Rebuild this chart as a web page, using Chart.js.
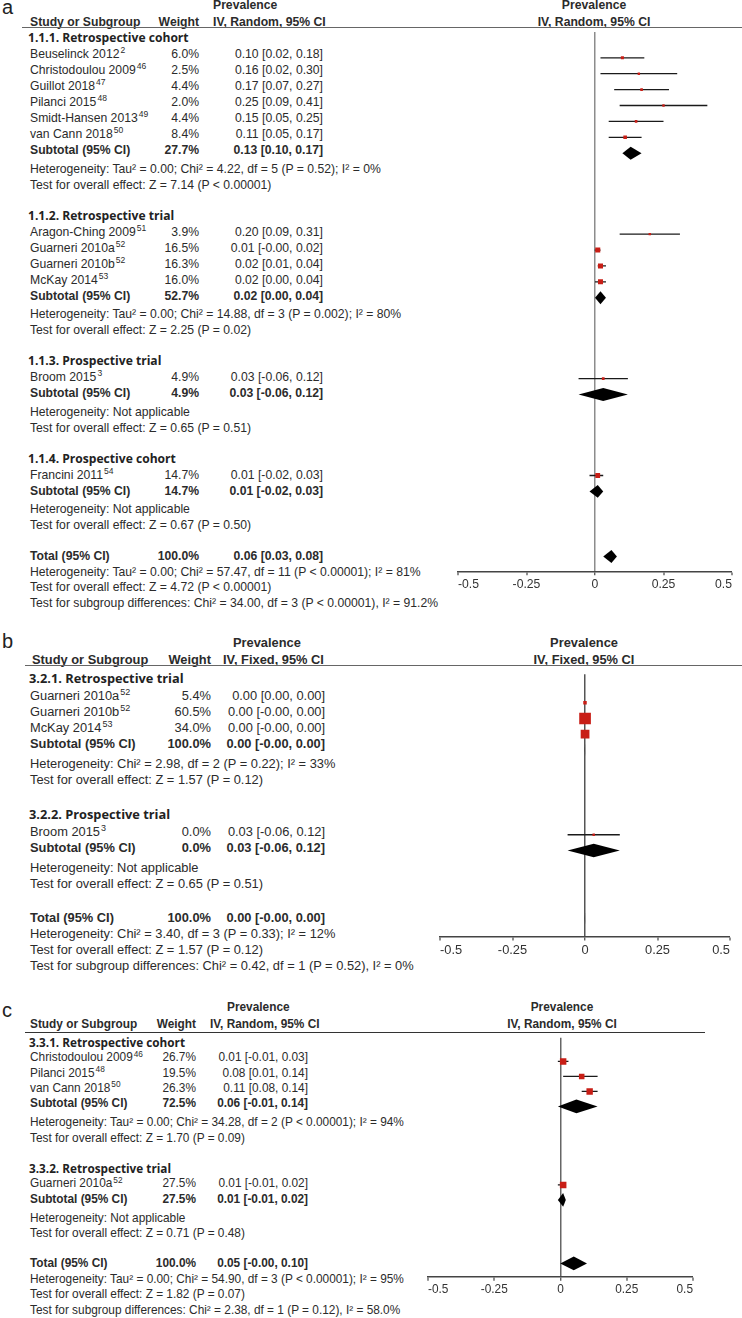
<!DOCTYPE html>
<html>
<head>
<meta charset="utf-8">
<title>Prevalence forest plots</title>
<script src="https://cdn.jsdelivr.net/npm/chart.js@4.4.1/dist/chart.umd.min.js"></script>
<style>
  html, body { margin: 0; padding: 0; background: #fff; }
  #page { position: relative; width: 742px; height: 1318px; overflow: hidden;
          font-family: "Liberation Sans", Arial, sans-serif; color: #2b2b2b; }
  .t { position: absolute; white-space: nowrap; line-height: 16px; height: 16px; }
  .bold { font-weight: bold; }
  .grp { font-family: "Open Sans", "Liberation Sans", sans-serif; font-weight: 700; color: #222; }
  .t sup { font-size: 0.7em; line-height: 0; vertical-align: 0.55em; padding-left: 1px; }
  .rule { position: absolute; height: 0; }
  .panel-label { position: absolute; font-size: 20px; line-height: 20px; color: #222; }
  canvas { position: absolute; }
</style>
</head>
<body>
<div id="page"></div>
<script>
// x axis
var tickValues = [-0.5, -0.25, 0, 0.25, 0.5];
var tickLabels = ['-0.5', '-0.25', '0', '0.25', '0.5'];

// ---- panel a (IV, Random) ----
var aMethod = 'IV, Random, 95% CI';
var aGroups = ['1.1.1. Retrospective cohort', '1.1.2. Retrospective trial', '1.1.3. Prospective trial', '1.1.4. Prospective cohort'];
var aStudies = ['Beuselinck 2012', 'Christodoulou 2009', 'Guillot 2018', 'Pilanci 2015', 'Smidt-Hansen 2013', 'van Cann 2018',
                'Aragon-Ching 2009', 'Guarneri 2010a', 'Guarneri 2010b', 'McKay 2014', 'Broom 2015', 'Francini 2011'];
var aRefs = ['2', '46', '47', '48', '49', '50', '51', '52', '52', '53', '3', '54'];
var aGroupOf = [0, 0, 0, 0, 0, 0, 1, 1, 1, 1, 2, 3];
var aWeights = [6.0, 2.5, 4.4, 2.0, 4.4, 8.4, 3.9, 16.5, 16.3, 16.0, 4.9, 14.7];
var aEst = [0.10, 0.16, 0.17, 0.25, 0.15, 0.11, 0.20, 0.01, 0.02, 0.02, 0.03, 0.01];
var aLow = [0.02, 0.02, 0.07, 0.09, 0.05, 0.05, 0.09, -0.001, 0.01, 0.00, -0.06, -0.02];
var aHigh = [0.18, 0.30, 0.27, 0.41, 0.25, 0.17, 0.31, 0.02, 0.04, 0.04, 0.12, 0.03];
var aSubWeights = [27.7, 52.7, 4.9, 14.7];
var aSubEst = [0.13, 0.02, 0.03, 0.01];
var aSubLow = [0.10, 0.00, -0.06, -0.02];
var aSubHigh = [0.17, 0.04, 0.12, 0.03];
var aHet = ['Heterogeneity: Tau\u00b2 = 0.00; Chi\u00b2 = 4.22, df = 5 (P = 0.52); I\u00b2 = 0%',
            'Heterogeneity: Tau\u00b2 = 0.00; Chi\u00b2 = 14.88, df = 3 (P = 0.002); I\u00b2 = 80%',
            'Heterogeneity: Not applicable',
            'Heterogeneity: Not applicable'];
var aEffect = ['Test for overall effect: Z = 7.14 (P < 0.00001)', 'Test for overall effect: Z = 2.25 (P = 0.02)',
               'Test for overall effect: Z = 0.65 (P = 0.51)', 'Test for overall effect: Z = 0.67 (P = 0.50)'];
var aTotal = [100.0, 0.06, 0.03, 0.08]; // weight, estimate, low, high
var aTotalNotes = ['Heterogeneity: Tau\u00b2 = 0.00; Chi\u00b2 = 57.47, df = 11 (P < 0.00001); I\u00b2 = 81%',
                   'Test for overall effect: Z = 4.72 (P < 0.00001)',
                   'Test for subgroup differences: Chi\u00b2 = 34.00, df = 3 (P < 0.00001), I\u00b2 = 91.2%'];

// ---- panel b (IV, Fixed) ----
var bMethod = 'IV, Fixed, 95% CI';
var bGroups = ['3.2.1. Retrospective trial', '3.2.2. Prospective trial'];
var bStudies = ['Guarneri 2010a', 'Guarneri 2010b', 'McKay 2014', 'Broom 2015'];
var bRefs = ['52', '52', '53', '3'];
var bGroupOf = [0, 0, 0, 1];
var bWeights = [5.4, 60.5, 34.0, 0.0];
var bEst = [0.00, 0.0002, 0.0002, 0.03];
var bLow = [0.00, -0.0004, -0.0004, -0.06];
var bHigh = [0.00, 0.0008, 0.0008, 0.12];
var bSubWeights = [100.0, 0.0];
var bSubEst = [0.0002, 0.03];
var bSubLow = [-0.0004, -0.06];
var bSubHigh = [0.0008, 0.12];
var bHet = ['Heterogeneity: Chi\u00b2 = 2.98, df = 2 (P = 0.22); I\u00b2 = 33%', 'Heterogeneity: Not applicable'];
var bEffect = ['Test for overall effect: Z = 1.57 (P = 0.12)', 'Test for overall effect: Z = 0.65 (P = 0.51)'];
var bTotal = [100.0, 0.0002, -0.0004, 0.0008];
var bTotalNotes = ['Heterogeneity: Chi\u00b2 = 3.40, df = 3 (P = 0.33); I\u00b2 = 12%',
                   'Test for overall effect: Z = 1.57 (P = 0.12)',
                   'Test for subgroup differences: Chi\u00b2 = 0.42, df = 1 (P = 0.52), I\u00b2 = 0%'];

// ---- panel c (IV, Random) ----
var cMethod = 'IV, Random, 95% CI';
var cGroups = ['3.3.1. Retrospective cohort', '3.3.2. Retrospective trial'];
var cStudies = ['Christodoulou 2009', 'Pilanci 2015', 'van Cann 2018', 'Guarneri 2010a'];
var cRefs = ['46', '48', '50', '52'];
var cGroupOf = [0, 0, 0, 1];
var cWeights = [26.7, 19.5, 26.3, 27.5];
var cEst = [0.01, 0.08, 0.11, 0.01];
var cLow = [-0.01, 0.01, 0.08, -0.01];
var cHigh = [0.03, 0.14, 0.14, 0.02];
var cSubWeights = [72.5, 27.5];
var cSubEst = [0.06, 0.01];
var cSubLow = [-0.01, -0.01];
var cSubHigh = [0.14, 0.02];
var cHet = ['Heterogeneity: Tau\u00b2 = 0.00; Chi\u00b2 = 34.28, df = 2 (P < 0.00001); I\u00b2 = 94%', 'Heterogeneity: Not applicable'];
var cEffect = ['Test for overall effect: Z = 1.70 (P = 0.09)', 'Test for overall effect: Z = 0.71 (P = 0.48)'];
var cTotal = [100.0, 0.05, -0.001, 0.10];
var cTotalNotes = ['Heterogeneity: Tau\u00b2 = 0.00; Chi\u00b2 = 54.90, df = 3 (P < 0.00001); I\u00b2 = 95%',
                   'Test for overall effect: Z = 1.82 (P = 0.07)',
                   'Test for subgroup differences: Chi\u00b2 = 2.38, df = 1 (P = 0.12), I\u00b2 = 58.0%'];

// positions and styles of each panel (page pixels)
var layoutA = { label: 'a', labelY: 7, font: 12.2, grpFont: 12.1, top1: 5, top2: 22, ruleY: 28, ruleX0: 22, ruleX1: 742,
  prevX: 213, methodX: 213, hdrX: 30, weightR: 199, ciR: 323, nameX: 30, grpX: 28,
  firstY: 38, s: 16, hs: 16, h: 18.5, g: 31, ns: 15.5, axisY: 571, x0: 458, x1: 732, plotC: 594,
  box: 1.25, diamond: 6.5, zero: '#8c8c8c', rule: '#666' };
var layoutB = { label: 'b', labelY: 641, font: 12.85, grpFont: 12.8, top1: 643, top2: 660, ruleY: 666, ruleX0: 25, ruleX1: 742,
  prevX: 233, methodX: 223, hdrX: 32, weightR: 211, ciR: 325, nameX: 30, grpX: 29,
  firstY: 678, s: 16.2, hs: 17.5, h: 20, g: 34, ns: 16, axisY: 937, x0: 440, x1: 730, plotC: 584,
  box: 1.5, diamond: 7, zero: '#555', rule: '#666' };
var layoutC = { label: 'c', labelY: 1010, font: 11.85, grpFont: 11.75, top1: 1007, top2: 1024, ruleY: 1033, ruleX0: 25, ruleX1: 705,
  prevX: 227, methodX: 210, hdrX: 30, weightR: 196, ciR: 308, nameX: 30, grpX: 29,
  firstY: 1042, s: 15.3, hs: 15.3, h: 19, g: 30.5, ns: 15.5, axisY: 1277, x0: 428, x1: 693, plotC: 562,
  box: 1.25, diamond: 7, zero: '#666', rule: '#333' };

var page = document.getElementById('page');

function fmt(v) { return v.toFixed(2); }
function ci(e, l, h) { return fmt(e) + ' [' + fmt(l) + ', ' + fmt(h) + ']'; }
function pct(w) { return w.toFixed(1) + '%'; }

function addText(html, x, y, size, cls, align) {
  var el = document.createElement('div');
  el.className = 't' + (cls ? ' ' + cls : '');
  el.innerHTML = html;
  el.style.fontSize = size + 'px';
  el.style.top = (y - 8) + 'px';
  if (align === 'right') {
    el.style.left = (x - 400) + 'px'; el.style.width = '400px'; el.style.textAlign = 'right';
  } else if (align === 'center') {
    el.style.left = (x - 200) + 'px'; el.style.width = '400px'; el.style.textAlign = 'center';
  } else {
    el.style.left = x + 'px';
  }
  page.appendChild(el);
}

function buildPanel(d, L) {
  // row positions
  var rows = [];
  var y = L.firstY;
  d.groups.forEach(function (name, g) {
    if (g > 0) y += L.g;
    rows.push({ type: 'grp', g: g, y: y });
    var first = true;
    d.studies.forEach(function (s, i) {
      if (d.groupOf[i] !== g) return;
      y += first ? L.hs : L.s; first = false;
      rows.push({ type: 'study', i: i, y: y });
    });
    y += L.s; rows.push({ type: 'sub', g: g, y: y });
    y += L.h; rows.push({ type: 'het', g: g, y: y });
    y += L.s; rows.push({ type: 'eff', g: g, y: y });
  });
  y += L.g; rows.push({ type: 'total', y: y });
  d.totalNotes.forEach(function (t, k) { y += L.ns; rows.push({ type: 'note', k: k, y: y }); });

  // headers
  var lab = document.createElement('div');
  lab.className = 'panel-label'; lab.textContent = L.label;
  lab.style.left = '2px'; lab.style.top = (L.labelY - 10) + 'px';
  page.appendChild(lab);
  var f = L.font;
  addText('Prevalence', L.prevX, L.top1, f, 'bold');
  addText('Study or Subgroup', L.hdrX, L.top2, f, 'bold');
  addText('Weight', L.weightR, L.top2, f, 'bold', 'right');
  addText(d.method, L.methodX, L.top2, f, 'bold');
  addText('Prevalence', L.plotC, L.top1, f, 'bold', 'center');
  addText(d.method, L.plotC, L.top2, f, 'bold', 'center');
  var rule = document.createElement('div');
  rule.className = 'rule';
  rule.style.left = L.ruleX0 + 'px'; rule.style.width = (L.ruleX1 - L.ruleX0) + 'px';
  rule.style.top = (L.ruleY - 0.75) + 'px'; rule.style.borderTop = '1.5px solid ' + L.rule;
  page.appendChild(rule);

  // table rows
  rows.forEach(function (r) {
    if (r.type === 'grp') addText(d.groups[r.g], L.grpX, r.y, L.grpFont, 'grp');
    if (r.type === 'study') {
      var i = r.i;
      addText(d.studies[i] + '<sup>' + d.refs[i] + '</sup>', L.nameX, r.y, f);
      addText(pct(d.weights[i]), L.weightR, r.y, f, '', 'right');
      addText(ci(d.est[i], d.low[i], d.high[i]), L.ciR, r.y, f, '', 'right');
    }
    if (r.type === 'sub') {
      addText('Subtotal (95% CI)', L.nameX, r.y, f, 'bold');
      addText(pct(d.subWeights[r.g]), L.weightR, r.y, f, 'bold', 'right');
      addText(ci(d.subEst[r.g], d.subLow[r.g], d.subHigh[r.g]), L.ciR, r.y, f, 'bold', 'right');
    }
    if (r.type === 'het') addText(d.het[r.g], L.nameX, r.y, f);
    if (r.type === 'eff') addText(d.effect[r.g], L.nameX, r.y, f);
    if (r.type === 'total') {
      addText('Total (95% CI)', L.nameX, r.y, f, 'bold');
      addText(pct(d.total[0]), L.weightR, r.y, f, 'bold', 'right');
      addText(ci(d.total[1], d.total[2], d.total[3]), L.ciR, r.y, f, 'bold', 'right');
    }
    if (r.type === 'note') addText(d.totalNotes[r.k], L.nameX, r.y, f);
  });

  drawPlot(d, L, rows);
}

function drawPlot(d, L, rows) {
  var tickLen = 4, tickPad = 2;
  var axisH = tickLen + 1.2 * L.font + 2 * tickPad;
  var left = L.x0 - 12, top = L.ruleY;
  var w = 742 - left, h = Math.round(L.axisY - L.ruleY + axisH);
  var cv = document.createElement('canvas');
  cv.width = w; cv.height = h;
  cv.style.left = left + 'px'; cv.style.top = top + 'px';
  cv.style.width = w + 'px'; cv.style.height = h + 'px';
  page.appendChild(cv);

  var studyY = [], subY = [], totalY = 0;
  rows.forEach(function (r) {
    if (r.type === 'study') studyY[r.i] = r.y;
    if (r.type === 'sub') subY[r.g] = r.y;
    if (r.type === 'total') totalY = r.y;
  });

  var datasets = [];
  datasets.push({
    label: 'Studies',
    data: d.est.map(function (e, i) { return { x: e, y: studyY[i] }; }),
    pointStyle: 'rect',
    pointRadius: d.weights.map(function (wt) { return Math.max(2.4, L.box * Math.sqrt(wt)) / Math.SQRT2; }),
    backgroundColor: '#c81e16', borderWidth: 0, order: 0
  });
  d.est.forEach(function (e, i) {
    datasets.push({
      label: d.studies[i] + ' CI',
      data: [{ x: d.low[i], y: studyY[i] }, { x: d.high[i], y: studyY[i] }],
      showLine: true, pointRadius: 0, borderColor: '#1a1a1a', borderWidth: 1.3, order: 1
    });
  });
  function diamond(label, e, lo, hi, y) {
    datasets.push({
      label: label,
      data: [{ x: lo, y: y }, { x: e, y: y - L.diamond }, { x: hi, y: y }, { x: e, y: y + L.diamond }, { x: lo, y: y }],
      showLine: true, fill: 'shape', pointRadius: 0, tension: 0,
      borderColor: 'rgba(0,0,0,0)', backgroundColor: '#000', borderWidth: 0, order: 1
    });
  }
  d.subEst.forEach(function (e, g) { diamond(d.groups[g], e, d.subLow[g], d.subHigh[g], subY[g]); });
  diamond('Total', d.total[1], d.total[2], d.total[3], totalY);

  new Chart(cv, {
    type: 'scatter',
    data: { datasets: datasets },
    options: {
      responsive: false, animation: false, events: [], devicePixelRatio: 1,
      layout: { padding: { left: L.x0 - left, right: 742 - L.x1, top: 0, bottom: 0 } },
      plugins: { legend: { display: false }, tooltip: { enabled: false } },
      scales: {
        x: {
          type: 'linear', min: -0.5, max: 0.5,
          afterBuildTicks: function (ax) { ax.ticks = tickValues.map(function (v) { return { value: v }; }); },
          ticks: {
            align: 'inner', padding: tickPad, maxRotation: 0, autoSkip: false, color: '#333',
            font: { family: 'Liberation Sans', size: L.font },
            callback: function (v, i) { return tickLabels[i]; }
          },
          grid: {
            drawOnChartArea: true, drawTicks: true, tickLength: tickLen, tickWidth: 1.2, tickColor: '#444',
            color: function (c) { return c.tick && c.tick.value === 0 ? L.zero : 'rgba(0,0,0,0)'; },
            lineWidth: function (c) { return c.tick && c.tick.value === 0 ? 1.5 : 0; }
          },
          border: { display: true, color: '#444', width: 1.5 }
        },
        y: { type: 'linear', display: false, min: L.ruleY, max: L.axisY, reverse: true }
      }
    }
  });
}

buildPanel({ method: aMethod, groups: aGroups, studies: aStudies, refs: aRefs, groupOf: aGroupOf, weights: aWeights,
  est: aEst, low: aLow, high: aHigh, subWeights: aSubWeights, subEst: aSubEst, subLow: aSubLow, subHigh: aSubHigh,
  het: aHet, effect: aEffect, total: aTotal, totalNotes: aTotalNotes }, layoutA);
buildPanel({ method: bMethod, groups: bGroups, studies: bStudies, refs: bRefs, groupOf: bGroupOf, weights: bWeights,
  est: bEst, low: bLow, high: bHigh, subWeights: bSubWeights, subEst: bSubEst, subLow: bSubLow, subHigh: bSubHigh,
  het: bHet, effect: bEffect, total: bTotal, totalNotes: bTotalNotes }, layoutB);
buildPanel({ method: cMethod, groups: cGroups, studies: cStudies, refs: cRefs, groupOf: cGroupOf, weights: cWeights,
  est: cEst, low: cLow, high: cHigh, subWeights: cSubWeights, subEst: cSubEst, subLow: cSubLow, subHigh: cSubHigh,
  het: cHet, effect: cEffect, total: cTotal, totalNotes: cTotalNotes }, layoutC);
</script>
</body>
</html>
